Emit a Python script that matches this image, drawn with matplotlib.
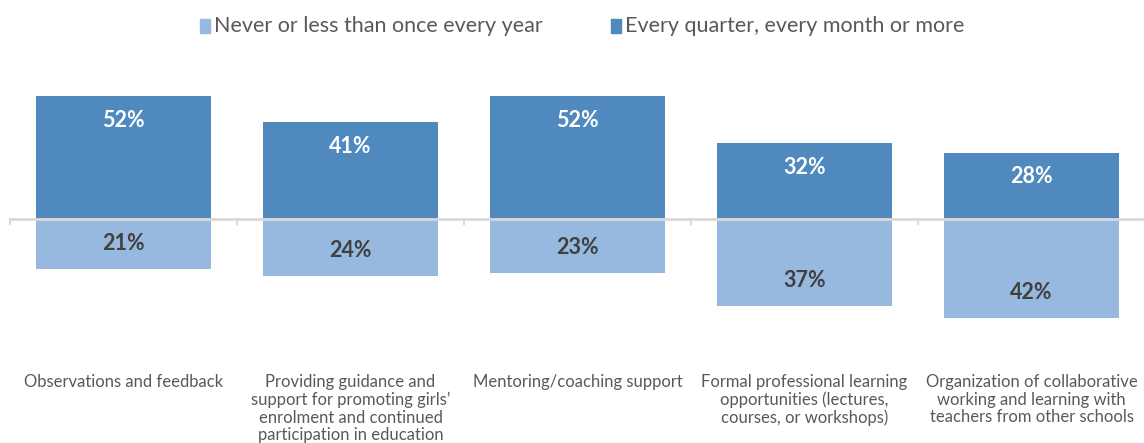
import matplotlib
matplotlib.use("Agg")
import matplotlib.pyplot as plt
from matplotlib.patches import Rectangle
from matplotlib.transforms import blended_transform_factory

categories = [
    "Observations and feedback",
    "Providing guidance and\nsupport for promoting girls’\nenrolment and continued\nparticipation in education",
    "Mentoring/coaching support",
    "Formal professional learning\nopportunities (lectures,\ncourses, or workshops)",
    "Organization of collaborative\nworking and learning with\nteachers from other schools",
]
frequent = [52, 41, 52, 32, 28]
rare = [21, 24, 23, 37, 42]
series_names = ["Never or less than once every year", "Every quarter, every month or more"]

dark = "#4F89BD"
light = "#98B9DF"
axis_grey = "#D9D9D9"
text_grey = "#595959"
label_dark = "#404040"

plt.rcParams["font.family"] = ["Lato", "DejaVu Sans"]

W, H = 1144, 443
fig = plt.figure(figsize=(W / 100, H / 100), dpi=100)
ax = fig.add_axes([10 / W, 1 - 341 / H, 1135 / W, 261 / H])
ax.set_xlim(-0.5, len(categories) - 0.5)
ax.set_ylim(-51.6, 58.8)
ax.axis("off")

x = list(range(len(categories)))
width = 0.767
ax.bar(x, frequent, width=width, color=dark, zorder=2)
ax.bar(x, [-v for v in rare], width=width, color=light, zorder=2)

# zero line with small boundary ticks
ax.axhline(0, color=axis_grey, lw=2, zorder=3)
for b in [i - 0.5 for i in range(len(categories) + 1)]:
    ax.plot([b, b], [0, -2.2], color=axis_grey, lw=1.5, zorder=3, clip_on=False)

for xi, v in zip(x, frequent):
    ax.text(xi, v - 10.2, f"{v}%", ha="center", va="center", color="white",
            fontsize=15.5, fontweight="bold", zorder=4)
for xi, v in zip(x, rare):
    ax.text(xi, -v + 10.8, f"{v}%", ha="center", va="center", color=label_dark,
            fontsize=15.5, fontweight="bold", zorder=4)

tr = blended_transform_factory(ax.transData, fig.transFigure)
for xi, c in zip(x, categories):
    ax.text(xi, 1 - 374 / H, c, transform=tr, ha="center", va="top", color=text_grey,
            fontsize=12, linespacing=1.12, clip_on=False)

# legend
legend_items = [(200, light, series_names[0]), (611, dark, series_names[1])]
for px, col, name in legend_items:
    fig.patches.append(Rectangle((px / W, 1 - 33 / H), 10 / W, 14 / H,
                                 transform=fig.transFigure, color=col))
    fig.text((px + 14) / W, 1 - 26 / H, name, ha="left", va="center",
             color=text_grey, fontsize=15.5)

fig.savefig("out.png", dpi=100)
